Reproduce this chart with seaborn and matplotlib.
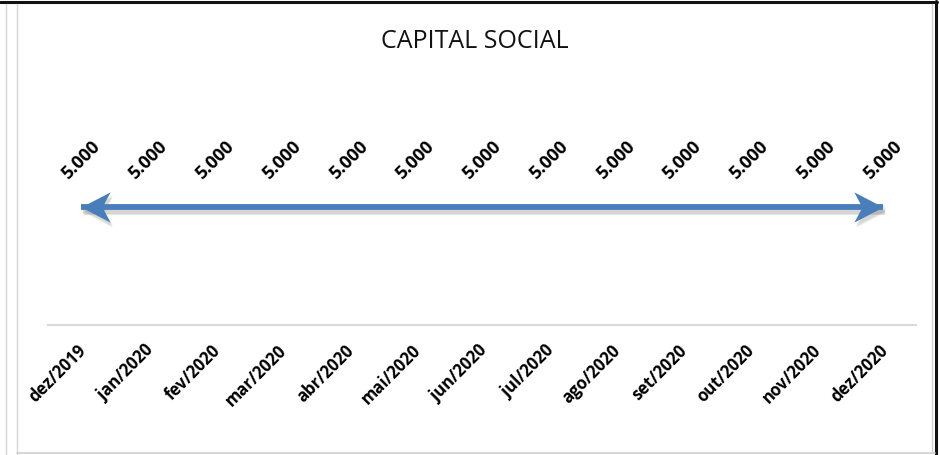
import pandas as pd
import matplotlib
matplotlib.use("Agg")
import matplotlib.pyplot as plt
import matplotlib.transforms as mtrans
from matplotlib.lines import Line2D
from matplotlib.path import Path
import seaborn as sns

# =============================================================================
# Data
# =============================================================================
meses = ['dez/2019', 'jan/2020', 'fev/2020', 'mar/2020', 'abr/2020', 'mai/2020',
         'jun/2020', 'jul/2020', 'ago/2020', 'set/2020', 'out/2020', 'nov/2020',
         'dez/2020']
capital = [5000, 5000, 5000, 5000, 5000, 5000, 5000,
           5000, 5000, 5000, 5000, 5000, 5000]
rotulos = ['5.000'] * len(meses)

df = pd.DataFrame({'mes': meses, 'capital': capital, 'rotulo': rotulos})
df['pos'] = range(len(df))

# =============================================================================
# Plot
# =============================================================================
sns.set_theme(style='white')
plt.rcParams['font.family'] = ['Open Sans', 'DejaVu Sans']

W, H = 940, 456
fig = plt.figure(figsize=(W / 100, H / 100), dpi=100)
ax = fig.add_axes([48 / W, 1 - 326 / H, (916 - 48) / W, (326 - 184) / H])

azul = '#4A7EBB'

# stealth arrow heads, tip at the marker origin
seta_dir = Path([(0, 0), (-1, 0.52), (-0.72, 0), (-1, -0.52), (0, 0)],
                [Path.MOVETO, Path.LINETO, Path.LINETO, Path.LINETO, Path.CLOSEPOLY])
seta_esq = Path([(0, 0), (1, 0.52), (0.72, 0), (1, -0.52), (0, 0)],
                [Path.MOVETO, Path.LINETO, Path.LINETO, Path.LINETO, Path.CLOSEPOLY])
ms = 42

ends = df.iloc[[0, -1]]

# soft shadow under the arrow
for dy, lw, a in [(-3, 7, 0.10), (-4, 5, 0.12), (-5, 3, 0.15)]:
    sh = mtrans.offset_copy(ax.transData, fig=fig, x=2, y=dy, units='dots')
    sns.lineplot(data=df, x='pos', y='capital', ax=ax, color='#808080',
                 linewidth=lw, alpha=a, transform=sh, solid_capstyle='butt')
    ax.plot(ends['pos'].iloc[:1], ends['capital'].iloc[:1], linestyle='none',
            marker=seta_esq, markersize=ms, color='#808080', alpha=0.12,
            markeredgewidth=0, transform=sh)
    ax.plot(ends['pos'].iloc[1:], ends['capital'].iloc[1:], linestyle='none',
            marker=seta_dir, markersize=ms, color='#808080', alpha=0.12,
            markeredgewidth=0, transform=sh)

sns.lineplot(data=df, x='pos', y='capital', ax=ax, color=azul, linewidth=4.2,
             solid_capstyle='butt')
ax.plot(ends['pos'].iloc[:1], ends['capital'].iloc[:1], linestyle='none',
        marker=seta_esq, markersize=ms, color=azul, markeredgewidth=0)
ax.plot(ends['pos'].iloc[1:], ends['capital'].iloc[1:], linestyle='none',
        marker=seta_dir, markersize=ms, color=azul, markeredgewidth=0)

# data labels
for _, r in df.iterrows():
    ax.annotate(r['rotulo'], xy=(r['pos'], r['capital']), xytext=(0, 34),
                textcoords='offset points', rotation=45, ha='center', va='center',
                fontsize=13, fontweight='bold', color='black',
                annotation_clip=False)

ax.set_xlim(-0.5, len(df) - 0.5)
ax.set_ylim(0, 6000)
ax.set_xticks(df['pos'])
ax.set_xticklabels(df['mes'], rotation=45, ha='right', rotation_mode='anchor',
                   fontsize=12, fontweight='bold', color='black')
ax.tick_params(axis='x', length=0, pad=11)
desloc = mtrans.ScaledTranslation(-4 / 100, 0, fig.dpi_scale_trans)
for lbl in ax.get_xticklabels():
    lbl.set_transform(lbl.get_transform() + desloc)
ax.set_yticks([])
ax.set_xlabel('')
ax.set_ylabel('')
for s in ['top', 'right', 'left']:
    ax.spines[s].set_visible(False)
ax.spines['bottom'].set_color('#d9d9d9')
ax.spines['bottom'].set_linewidth(1.5)

fig.text(475 / W, 1 - 41 / H, 'CAPITAL SOCIAL', ha='center', va='center',
         fontsize=18, color='#111111')

# frame around the chart
def fline(x0, y0, x1, y1, color, lw):
    fig.add_artist(Line2D([x0 / W, x1 / W], [1 - y0 / H, 1 - y1 / H],
                          color=color, linewidth=lw))

fline(0, 2.5, 937, 2.5, '#111111', 2.2)
fline(935.5, 2, 935.5, 456, '#111111', 2.2)
fline(932, 5, 932, 453, '#cfcfcf', 1)
fline(6, 5, 6, 456, '#d6d6d6', 1)
fline(17, 5, 17, 456, '#d6d6d6', 1)
fline(17, 453.5, 935, 453.5, '#cfcfcf', 1.2)

fig.savefig('out.png', dpi=100)
